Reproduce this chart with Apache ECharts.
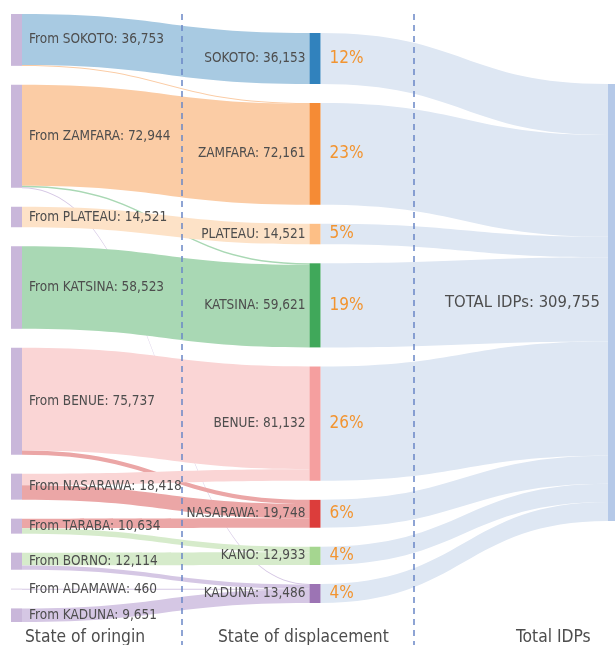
<!DOCTYPE html>
<html>
<head>
<meta charset="utf-8">
<script src="https://cdn.jsdelivr.net/npm/echarts@6/dist/echarts.min.js"></script>
<style>
html, body { margin: 0; padding: 0; background: #fff; }
#chart { width: 615px; height: 645px; }
</style>
</head>
<body>
<div id="chart"></div>
<script>
// state of origin
const origins = ['SOKOTO', 'ZAMFARA', 'PLATEAU', 'KATSINA', 'BENUE', 'NASARAWA', 'TARABA', 'BORNO', 'ADAMAWA', 'KADUNA']
const originValues = [36753, 72944, 14521, 58523, 75737, 18418, 10634, 12114, 460, 9651]
// state of displacement
const places = ['SOKOTO', 'ZAMFARA', 'PLATEAU', 'KATSINA', 'BENUE', 'NASARAWA', 'KANO', 'KADUNA']
const placeValues = [36153, 72161, 14521, 59621, 81132, 19748, 12933, 13486]
const placeColors = ['#3182bd', '#f58b35', '#fdbf86', '#40a85a', '#f59f9f', '#dc3d3b', '#a5d690', '#9c74b4']
const flowColors = ['#a8cae2', '#fbcca5', '#fde2c7', '#a9d8b4', '#fad5d5', '#eba6a6', '#d6ebcb', '#d5c7e4']
const totalName = 'TOTAL IDPs'
const totalValue = 309755
// origin -> displacement
const flows = [
  ['SOKOTO', 'SOKOTO', 36153],
  ['SOKOTO', 'ZAMFARA', 600],
  ['ZAMFARA', 'ZAMFARA', 71561],
  ['ZAMFARA', 'KATSINA', 1098],
  ['ZAMFARA', 'KADUNA', 285],
  ['PLATEAU', 'PLATEAU', 14521],
  ['KATSINA', 'KATSINA', 58523],
  ['BENUE', 'BENUE', 72837],
  ['BENUE', 'NASARAWA', 2900],
  ['NASARAWA', 'BENUE', 8295],
  ['NASARAWA', 'NASARAWA', 10123],
  ['TARABA', 'NASARAWA', 6725],
  ['TARABA', 'KANO', 3909],
  ['BORNO', 'KANO', 9024],
  ['BORNO', 'KADUNA', 3090],
  ['ADAMAWA', 'KADUNA', 460],
  ['KADUNA', 'KADUNA', 9651]
]
const headers = ['State of oringin', 'State of displacement', 'Total IDPs']

const font = "'DejaVu Sans Condensed', 'Liberation Sans', sans-serif"
const textColor = '#4d4d4d'
const fmt = v => v.toLocaleString('en-US')

// invisible spacers so the fixed-order layout pushes columns 2 and 3 down
const spacer = (name, depth, value) => ({
  name, depth, value,
  itemStyle: { color: 'rgba(0,0,0,0)' },
  label: { show: false }
})

const nodes = []
origins.forEach((o, i) => {
  nodes.push({
    name: 'From ' + o,
    itemStyle: { color: '#c9b7da' },
    label: { position: 'right', distance: 7, formatter: 'From ' + o + ': ' + fmt(originValues[i]) }
  })
})
nodes.push(spacer('gap1', 1, 0))
places.forEach((p, i) => {
  const pct = Math.round(placeValues[i] / totalValue * 100) + '%'
  nodes.push({
    name: p,
    itemStyle: { color: placeColors[i] },
    label: {
      position: 'left',
      distance: 4,
      offset: [64, 0],
      formatter: '{n|' + p + ': ' + fmt(placeValues[i]) + '}{g| }{p|' + pct + '}'
    }
  })
})
nodes.push(spacer('gap2', 2, 36150))
nodes.push({
  name: totalName,
  itemStyle: { color: '#b5c9e8' },
  label: { position: 'left', distance: 8, fontSize: 16.5, formatter: totalName + ': ' + fmt(totalValue) }
})

const links = []
flows.forEach(f => {
  links.push({
    source: 'From ' + f[0],
    target: f[1],
    value: f[2],
    lineStyle: { color: flowColors[places.indexOf(f[1])] }
  })
})
places.forEach((p, i) => {
  links.push({ source: p, target: totalName, value: placeValues[i], lineStyle: { color: '#dee7f3' } })
})

const chart = echarts.init(document.getElementById('chart'))
chart.setOption({
  animation: false,
  graphic: [
    { type: 'line', silent: true, shape: { x1: 182, y1: 14, x2: 182, y2: 645 }, style: { stroke: '#6a86c6', lineWidth: 1.5, lineDash: [6, 5] }, z: 10 },
    { type: 'line', silent: true, shape: { x1: 414, y1: 14, x2: 414, y2: 645 }, style: { stroke: '#6a86c6', lineWidth: 1.5, lineDash: [6, 5] }, z: 10 },
    { type: 'text', left: 25, top: 629, style: { text: headers[0], font: '17.3px ' + font, fill: textColor } },
    { type: 'text', left: 218, top: 629, style: { text: headers[1], font: '17.3px ' + font, fill: textColor } },
    { type: 'text', left: 516, top: 629, style: { text: headers[2], font: '17.3px ' + font, fill: textColor } }
  ],
  series: [{
    type: 'sankey',
    left: 11,
    top: 14,
    width: 608,
    height: 608,
    nodeWidth: 11,
    nodeGap: 19,
    layoutIterations: 0,
    draggable: false,
    emphasis: { disabled: true },
    lineStyle: { opacity: 1, curveness: 0.5 },
    label: {
      fontFamily: font,
      fontSize: 13.5,
      color: textColor,
      rich: {
        n: { align: 'left', fontFamily: font, fontSize: 13.5, color: textColor },
        g: { align: 'left', width: 24 },
        p: { align: 'left', width: 40, fontFamily: font, fontSize: 17, color: '#f29430' }
      }
    },
    data: nodes,
    links: links
  }]
})
</script>
</body>
</html>
